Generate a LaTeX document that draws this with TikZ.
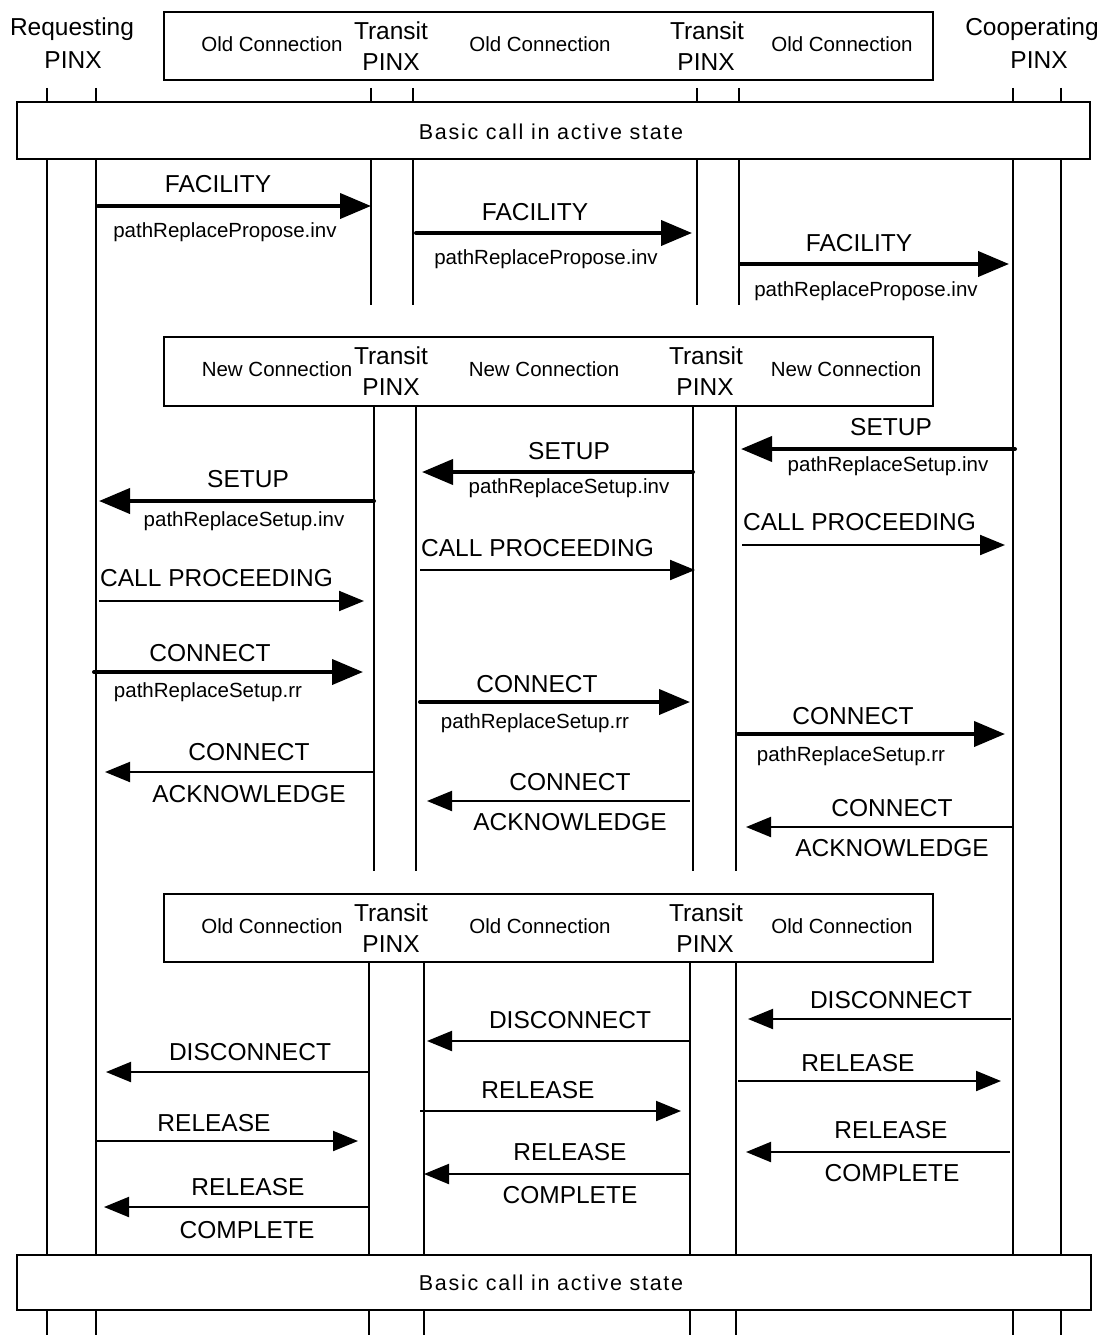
\documentclass[tikz,border=0pt]{standalone}
\usepackage{fontspec}
\setmainfont{Liberation Sans}
\usetikzlibrary{arrows.meta}
\newcommand\msgline[5]{%
  \coordinate (#1s) at (#4,#3);
  \coordinate (#1e) at (#5,#3);
  \draw[#2] (#1s) -- (#1e);}
\begin{document}
\begin{tikzpicture}[x=1pt,y=-1pt,
  life/.style={line width=2pt},
  box/.style={draw, line width=2pt, inner sep=0pt, anchor=north west},
  big/.style={font=\fontsize{24.5}{28}\selectfont, inner sep=0pt},
  small/.style={font=\fontsize{20.5}{24}\selectfont, inner sep=0pt},
  basic/.style={font=\fontsize{21.5}{24}\selectfont\addfontfeature{LetterSpace=8}, inner sep=0pt},
  thickmsg/.style={line width=4pt, line cap=round, -{Triangle[length=31pt,width=25pt]}},
  thinmsg/.style={line width=2pt, -{Triangle[length=25pt,width=20pt]}}]
\useasboundingbox[fill=white] (0,0) rectangle (1112,1335);

% ---- boxes ----
\node[box, minimum width=769pt, minimum height=68pt] (conn1) at (163,11) {};
\node[box, minimum width=1073pt, minimum height=57pt] (basic1) at (16,101) {};
\node[box, minimum width=769pt, minimum height=69pt] (conn2) at (163,336) {};
\node[box, minimum width=769pt, minimum height=68pt] (conn3) at (163,893) {};
\node[box, minimum width=1074pt, minimum height=55pt] (basic2) at (16,1254) {};

\node[basic] (basic1t) at (551,132) {Basic call in active state};
\node[basic] (basic2t) at (551,1283) {Basic call in active state};

% ---- headers ----
\node[big] (reqa) at (72,29) {Requesting};
\node[big] (reqb) at (73,60) {PINX};
\node[big] (coopa) at (1032,29) {Cooperating};
\node[big] (coopb) at (1039,60) {PINX};

\node[small] (c1a) at (272,44) {Old Connection};
\node[small] (c1b) at (540,44) {Old Connection};
\node[small] (c1c) at (842,44) {Old Connection};
\node[big] (t1a) at (391,31) {Transit};
\node[big] (t1b) at (391,62) {PINX};
\node[big] (t2a) at (707,31) {Transit};
\node[big] (t2b) at (706,62) {PINX};

\node[small] (c2a) at (277,369) {New Connection};
\node[small] (c2b) at (544,369) {New Connection};
\node[small] (c2c) at (846,369) {New Connection};
\node[big] (t3a) at (391,356) {Transit};
\node[big] (t3b) at (391,387) {PINX};
\node[big] (t4a) at (706,356) {Transit};
\node[big] (t4b) at (705,387) {PINX};

\node[small] (c3a) at (272,926) {Old Connection};
\node[small] (c3b) at (540,926) {Old Connection};
\node[small] (c3c) at (842,926) {Old Connection};
\node[big] (t5a) at (391,913) {Transit};
\node[big] (t5b) at (391,944) {PINX};
\node[big] (t6a) at (706,913) {Transit};
\node[big] (t6b) at (705,944) {PINX};

% ---- lifelines ----
\foreach \x in {47,96,1013,1061}{
  \draw[life] (\x,88) -- (\x,101);
  \draw[life] (\x,158) -- (\x,1254);
  \draw[life] (\x,1309) -- (\x,1335);
}
\foreach \x in {371,413,697,739}{
  \draw[life] (\x,88) -- (\x,101);
  \draw[life] (\x,158) -- (\x,305);
}
\foreach \x in {374,416,693,736}{
  \draw[life] (\x,405) -- (\x,871);
}
\foreach \x in {369,424,690,736}{
  \draw[life] (\x,961) -- (\x,1254);
  \draw[life] (\x,1309) -- (\x,1335);
}

% ---- messages: FACILITY ----
\msgline{m1}{thickmsg}{206}{98}{371}
\node[big] (m1t) at (218,184) {FACILITY};
\node[small] (m1b) at (225,232) {pathReplacePropose.inv};
\msgline{m2}{thickmsg}{233}{416}{692}
\node[big] (m2t) at (535,212) {FACILITY};
\node[small] (m2b) at (546,259) {pathReplacePropose.inv};
\msgline{m3}{thickmsg}{264}{740}{1009}
\node[big] (m3t) at (859,243) {FACILITY};
\node[small] (m3b) at (866,291) {pathReplacePropose.inv};

% ---- SETUP ----
\msgline{m4}{thickmsg}{449}{1015}{741}
\node[big] (m4t) at (891,427) {SETUP};
\node[small] (m4b) at (888,466) {pathReplaceSetup.inv};
\msgline{m5}{thickmsg}{472}{693}{422}
\node[big] (m5t) at (569,451) {SETUP};
\node[small] (m5b) at (569,488) {pathReplaceSetup.inv};
\msgline{m6}{thickmsg}{501}{374}{99}
\node[big] (m6t) at (248,479) {SETUP};
\node[small] (m6b) at (244,521) {pathReplaceSetup.inv};

% ---- CALL PROCEEDING ----
\msgline{m7}{thinmsg}{545}{742}{1005}
\node[big, anchor=west] (m7t) at (743,522) {CALL PROCEEDING};
\msgline{m8}{thinmsg}{570}{420}{695}
\node[big, anchor=west] (m8t) at (421,548) {CALL PROCEEDING};
\msgline{m9}{thinmsg}{601}{99}{364}
\node[big, anchor=west] (m9t) at (100,578) {CALL PROCEEDING};

% ---- CONNECT ----
\msgline{m10}{thickmsg}{672}{94}{363}
\node[big] (m10t) at (210,653) {CONNECT};
\node[small] (m10b) at (208,692) {pathReplaceSetup.rr};
\msgline{m11}{thickmsg}{702}{420}{690}
\node[big] (m11t) at (537,684) {CONNECT};
\node[small] (m11b) at (535,723) {pathReplaceSetup.rr};
\msgline{m12}{thickmsg}{734}{738}{1005}
\node[big] (m12t) at (853,716) {CONNECT};
\node[small] (m12b) at (851,756) {pathReplaceSetup.rr};

% ---- CONNECT ACKNOWLEDGE ----
\msgline{m13}{thinmsg}{772}{374}{105}
\node[big] (m13t) at (249,752) {CONNECT};
\node[big] (m13b) at (249,794) {ACKNOWLEDGE};
\msgline{m14}{thinmsg}{801}{690}{427}
\node[big] (m14t) at (570,782) {CONNECT};
\node[big] (m14b) at (570,822) {ACKNOWLEDGE};
\msgline{m15}{thinmsg}{827}{1013}{746}
\node[big] (m15t) at (892,808) {CONNECT};
\node[big] (m15b) at (892,848) {ACKNOWLEDGE};

% ---- DISCONNECT ----
\msgline{m16}{thinmsg}{1019}{1011}{748}
\node[big] (m16t) at (891,1000) {DISCONNECT};
\msgline{m17}{thinmsg}{1041}{690}{427}
\node[big] (m17t) at (570,1020) {DISCONNECT};
\msgline{m18}{thinmsg}{1072}{369}{106}
\node[big] (m18t) at (250,1052) {DISCONNECT};

% ---- RELEASE ----
\msgline{m19}{thinmsg}{1081}{738}{1001}
\node[big] (m19t) at (858,1063) {RELEASE};
\msgline{m20}{thinmsg}{1111}{420}{681}
\node[big] (m20t) at (538,1090) {RELEASE};
\msgline{m21}{thinmsg}{1141}{96}{358}
\node[big] (m21t) at (214,1123) {RELEASE};

% ---- RELEASE COMPLETE ----
\msgline{m22}{thinmsg}{1152}{1010}{746}
\node[big] (m22t) at (891,1130) {RELEASE};
\node[big] (m22b) at (892,1173) {COMPLETE};
\msgline{m23}{thinmsg}{1174}{689}{424}
\node[big] (m23t) at (570,1152) {RELEASE};
\node[big] (m23b) at (570,1195) {COMPLETE};
\msgline{m24}{thinmsg}{1207}{368}{104}
\node[big] (m24t) at (248,1187) {RELEASE};
\node[big] (m24b) at (247,1230) {COMPLETE};
\end{tikzpicture}
\end{document}
